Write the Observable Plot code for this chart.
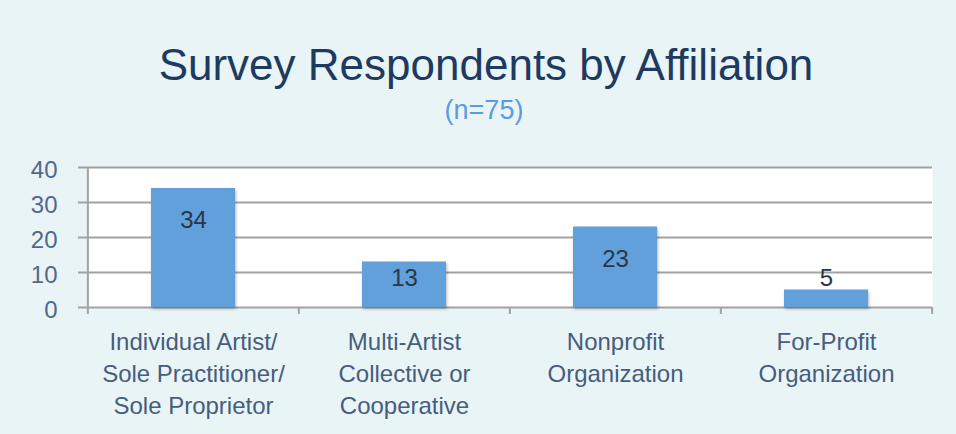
<!DOCTYPE html>
<html>
<head>
<meta charset="utf-8">
<script src="https://cdn.jsdelivr.net/npm/d3@7"></script>
<script src="https://cdn.jsdelivr.net/npm/@observablehq/plot@0.6"></script>
<style>
  html, body { margin: 0; padding: 0; background: #E9F4F7; }
  #wrap { width: 956px; height: 434px; position: relative; overflow: hidden; background: #E9F4F7; font-family: "Liberation Sans", Arial, sans-serif; }
  #header { position: relative; height: 150px; }
  #title { position: absolute; left: 0; width: 972px; top: 43px; text-align: center; font-size: 44px; line-height: 1; color: #1F3A5F; white-space: nowrap; }
  #subtitle { position: absolute; left: 0; width: 968px; top: 97px; text-align: center; font-size: 27px; line-height: 1; color: #5B9BE0; }
  #chart svg { display: block; }
  #chart g[aria-label="bar"] rect { filter: drop-shadow(1px 2px 1.5px rgba(0,0,0,0.28)); }
</style>
</head>
<body>
<div id="wrap">
  <div id="header">
    <div id="title">Survey Respondents by Affiliation</div>
    <div id="subtitle">(n=75)</div>
  </div>
  <div id="chart"></div>
</div>
<script>
const categories = [
  "Individual Artist/\nSole Practitioner/\nSole Proprietor",
  "Multi-Artist\nCollective or\nCooperative",
  "Nonprofit\nOrganization",
  "For-Profit\nOrganization"
];
const values = [34, 13, 23, 5];
const yTicks = [0, 10, 20, 30, 40];

const data = categories.map((c, i) => ({category: c, value: values[i]}));

const W = 956, H = 284;
const mL = 87, mR = 24, mT = 17, mB = 127;
const step = (W - mL - mR) / categories.length;
const gridColor = "#A2A2A2";

const chart = Plot.plot({
  width: W,
  height: H,
  marginLeft: mL,
  marginRight: mR,
  marginTop: mT,
  marginBottom: mB,
  style: {fontFamily: "Liberation Sans, Arial, sans-serif", background: "transparent", overflow: "visible"},
  x: {domain: categories, paddingInner: 0.6, paddingOuter: 0.3, axis: null},
  y: {domain: [0, 40], axis: null},
  marks: [
    Plot.frame({fill: "white", stroke: null}),
    Plot.ruleY(yTicks, {stroke: gridColor, strokeWidth: 2, insetLeft: -9}),
    Plot.barY(data, {x: "category", y: "value", fill: "#62A0DB"}),
    // value labels
    Plot.text(data.filter(d => d.value >= 20), {x: "category", y: "value", text: d => String(d.value), dy: 32, fontSize: 24, fill: "#2A3646"}),
    Plot.text(data.filter(d => d.value >= 10 && d.value < 20), {x: "category", y: "value", text: d => String(d.value), dy: 16, fontSize: 24, fill: "#2A3646"}),
    Plot.text(data.filter(d => d.value < 10), {x: "category", y: "value", text: d => String(d.value), dy: -12, fontSize: 24, fill: "#2A3646"}),
    // y axis line
    Plot.ruleX([categories[0]], {x: d => d, dx: -step / 2, stroke: gridColor, strokeWidth: 2}),
    // category boundary ticks
    Plot.ruleX(categories, {x: d => d, y1: 0, y2: 0, insetBottom: -7, dx: -step / 2, stroke: gridColor, strokeWidth: 2}),
    Plot.ruleX([categories[categories.length - 1]], {x: d => d, y1: 0, y2: 0, insetBottom: -7, dx: step / 2, stroke: gridColor, strokeWidth: 2}),
    // y tick labels
    Plot.axisY(yTicks, {tickSize: 0, tickPadding: 30, fontSize: 24, fill: "#52678A", dy: 3, label: null}),
    // x category labels
    Plot.text(categories, {x: d => d, text: d => d, frameAnchor: "bottom", lineAnchor: "top", dy: 20, lineHeight: 1.33, fontSize: 24, fill: "#465D7D"})
  ]
});
document.getElementById("chart").appendChild(chart);
</script>
</body>
</html>
